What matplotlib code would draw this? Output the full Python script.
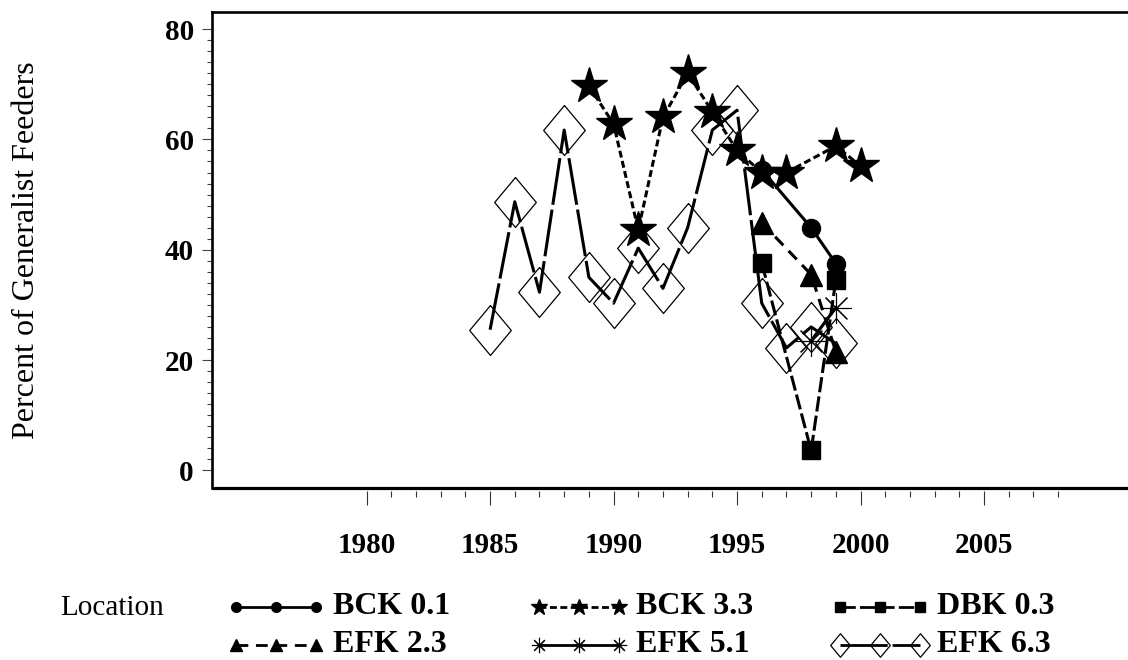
import matplotlib
matplotlib.use("Agg")
import matplotlib.pyplot as plt
from matplotlib.lines import Line2D

# Percent of generalist feeders by survey year and location
bck01_years = [1996, 1998, 1999]
bck01_pct = [54.5, 44.0, 37.5]

bck33_years = [1989, 1990, 1991, 1992, 1993, 1994, 1995, 1996, 1997, 1999, 2000]
bck33_pct = [69.7, 62.8, 43.6, 64.0, 72.0, 65.0, 58.0, 54.0, 54.0, 58.8, 55.2]

dbk03_years = [1996, 1998, 1999]
dbk03_pct = [37.6, 3.6, 34.5]

efk23_years = [1996, 1998, 1999]
efk23_pct = [44.9, 35.5, 21.5]

efk51_years = [1998, 1999]
efk51_pct = [23.5, 29.5]

efk63_years = [1985, 1986, 1987, 1988, 1989, 1990, 1991, 1992, 1993, 1994,
               1995, 1996, 1997, 1998, 1999]
efk63_pct = [25.5, 48.7, 32.3, 61.7, 35.0, 30.3, 40.3, 33.0, 44.0, 61.7,
             65.3, 30.3, 22.2, 26.0, 23.0]

year_ticks = [1980, 1985, 1990, 1995, 2000, 2005]
pct_ticks = [0, 20, 40, 60, 80]
legend_title = "Location"

plt.rcParams["lines.scale_dashes"] = False
SERIF = ["Liberation Serif", "DejaVu Serif"]

W, H = 1128, 660
fig = plt.figure(figsize=(W / 100, H / 100), dpi=100)


def fx(px):
    return px / W


def fy(py):
    return 1 - py / H


left, right, top, bottom = 212, 1128, 12, 488
ax = fig.add_axes([fx(left), fy(bottom), fx(right - left), (bottom - top) / H])
ax.set_xlim(1973.74, 2010.83)
ax.set_ylim(-3.2, 83.1)

# tall open diamond
diamond = [(0, 1.2), (1, 0), (0, -1.2), (-1, 0), (0, 1.2)]
asterisk = (8, 2, 0)

styles = {
    "BCK 0.1": dict(ls="-", marker="o", ms=13, mfc="k", mec="k"),
    "BCK 3.3": dict(ls=(0, (5, 2.5)), marker="*", ms=27, mfc="k", mec="k"),
    "DBK 0.3": dict(ls=(0, (11, 3)), marker="s", ms=13.5, mfc="k", mec="k"),
    "EFK 2.3": dict(ls=(0, (8.5, 5.5)), marker="^", ms=16.5, mfc="k", mec="k"),
    "EFK 5.1": dict(ls="-", marker=asterisk, ms=22, mfc="k", mec="k", mew=0.8),
    "EFK 6.3": dict(ls=(0, (34, 3.5)), marker=diamond, ms=36, mfc="none",
                    mec="k", mew=0.9),
}
series = [
    ("EFK 6.3", efk63_years, efk63_pct),
    ("EFK 5.1", efk51_years, efk51_pct),
    ("DBK 0.3", dbk03_years, dbk03_pct),
    ("EFK 2.3", efk23_years, efk23_pct),
    ("BCK 0.1", bck01_years, bck01_pct),
    ("BCK 3.3", bck33_years, bck33_pct),
]
for name, xs, ys in series:
    st = dict(styles[name])
    ax.plot(xs, ys, color="k", lw=2.2, clip_on=False, **st)

# frame: top, left and bottom lines
ax.spines["right"].set_visible(False)
ax.spines["top"].set_linewidth(1.9)
ax.spines["left"].set_linewidth(1.9)
ax.spines["bottom"].set_visible(False)
ax.plot([0, 1], [0, 0], transform=ax.transAxes, color="k", lw=2.3,
        clip_on=False, solid_capstyle="butt")
ax.spines["bottom"].set_position(("outward", 2.5))

# x ticks hang below the frame
ax.set_xticks(year_ticks)
ax.set_xticks([y for y in range(1981, 2009) if y % 5], minor=True)
ax.set_xticklabels([str(y) for y in year_ticks], fontfamily=SERIF,
                   fontweight="bold", fontsize=21)
ax.tick_params(axis="x", which="major", direction="out", length=10, width=0.8,
               color="#333333", pad=19)
ax.tick_params(axis="x", which="minor", direction="out", length=4, width=0.8,
               color="#333333")

# y ticks
ax.set_yticks(pct_ticks)
ax.set_yticks([v for v in range(0, 81, 2) if v % 20], minor=True)
ax.set_yticklabels([str(v) for v in pct_ticks], fontfamily=SERIF,
                   fontweight="bold", fontsize=21)
ax.tick_params(axis="y", which="major", direction="out", length=7, width=0.8,
               color="#444444", pad=6)
ax.tick_params(axis="y", which="minor", direction="out", length=3.5,
               width=0.8, color="#444444")

fig.text(fx(27), fy(250), "Percent of Generalist Feeders", rotation=90,
         ha="center", va="center", fontfamily=SERIF, fontsize=23)

# legend
fig.text(fx(60), fy(608), legend_title, ha="left", va="center",
         fontfamily=SERIF, fontsize=21)
legend_ms = {"BCK 0.1": 7, "BCK 3.3": 12, "DBK 0.3": 7, "EFK 2.3": 8,
             "EFK 5.1": 11, "EFK 6.3": 17}
legend_pos = [
    ("BCK 0.1", 232, 607), ("BCK 3.3", 535, 607), ("DBK 0.3", 836, 607),
    ("EFK 2.3", 232, 645), ("EFK 5.1", 535, 645), ("EFK 6.3", 836, 645),
]
for name, x0, y0 in legend_pos:
    st = dict(styles[name])
    st["ms"] = legend_ms[name]
    xs = [fx(x0 + 4), fx(x0 + 44), fx(x0 + 84)]
    fig.add_artist(Line2D(xs, [fy(y0)] * 3, color="k", lw=2.0,
                          transform=fig.transFigure, **st))
    fig.text(fx(x0 + 101), fy(y0), name, ha="left", va="center",
             fontfamily=SERIF, fontweight="bold", fontsize=23)

fig.savefig("out.png", dpi=100)
